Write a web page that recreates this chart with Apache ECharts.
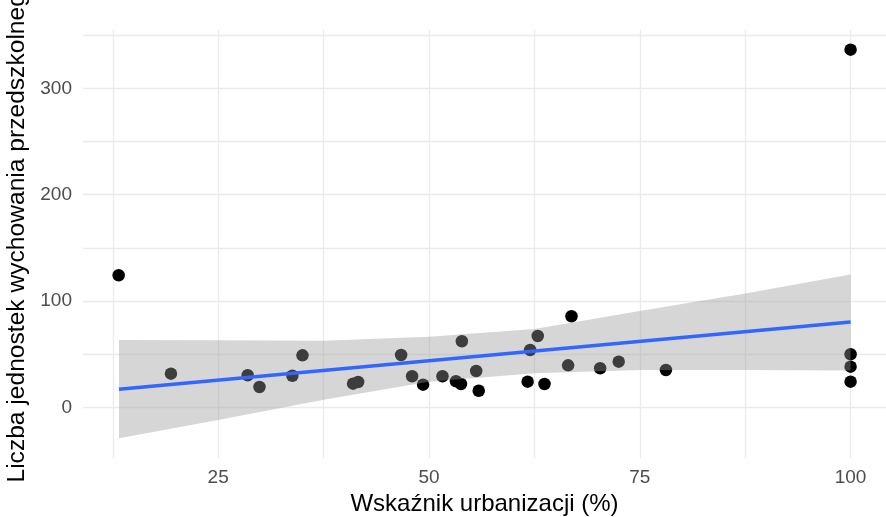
<!DOCTYPE html>
<html>
<head>
  <meta charset="utf-8">
  <script src="https://cdn.jsdelivr.net/npm/echarts@6.0.0/dist/echarts.min.js"></script>
  <style>
    body {
      margin: 0;
      padding: 0;
      background-color: white;
    }

    #main {
      width: 886px;
      height: 517px;
    }
  </style>
  <title>Urbanizacja a przedszkola</title>
</head>
<body>
<div id="main"></div>
<script>
  // punkty (wskaznik urbanizacji %, liczba jednostek)
  var urbanizacja = [13.2, 19.4, 28.5, 29.9, 33.8, 35.0, 41.0, 41.6, 46.7, 48.0,
    49.3, 51.6, 53.2, 53.8, 53.9, 55.6, 55.9, 61.7, 62.0, 62.9,
    63.7, 66.5, 66.9, 70.3, 72.5, 78.1, 100, 100, 100, 100];
  var jednostki = [124.2, 31.6, 30.1, 19.1, 29.7, 48.9, 22.2, 23.8, 49.2, 29.2,
    21.3, 29.2, 24.5, 21.9, 62.1, 34.1, 15.6, 24.1, 53.9, 67.1,
    21.9, 39.5, 85.6, 36.7, 42.9, 35.1, 336.4, 49.9, 38.2, 24.1];

  // linia trendu i przedzial ufnosci
  var fitX = [13.24, 100];
  var fitY = [16.9, 80.2];
  var ribbonX = [13.24, 25, 37.5, 50, 62.5, 75, 87.5, 100];
  var ribbonLower = [-29.2, -12, 7, 24, 32, 35, 35, 34.5];
  var ribbonUpper = [63.3, 63, 62.7, 66.4, 73.7, 90.5, 107, 125];

  var xGrid = [12.5, 25, 37.5, 50, 62.5, 75, 87.5, 100];
  var xLabels = [25, 50, 75, 100];
  var yGrid = [0, 50, 100, 150, 200, 250, 300, 350];
  var yLabels = [0, 100, 200, 300];

  var points = urbanizacja.map(function (x, i) { return [x, jednostki[i]]; });
  var fitLine = fitX.map(function (x, i) { return [x, fitY[i]]; });
  var ribbonData = ribbonX.map(function (x, i) { return [x, ribbonLower[i], ribbonUpper[i]]; });

  var font = '"Liberation Sans", Arial, sans-serif';

  var myChart = echarts.init(document.getElementById('main'));

  // pasmo ufnosci jako jeden wielokat (gora, potem dol od konca)
  function renderRibbon(params, api) {
    if (params.dataIndex !== 0) {
      return null;
    }
    var pts = [];
    for (var i = 0; i < ribbonX.length; i++) {
      pts.push(api.coord([ribbonX[i], ribbonUpper[i]]));
    }
    for (var j = ribbonX.length - 1; j >= 0; j--) {
      pts.push(api.coord([ribbonX[j], ribbonLower[j]]));
    }
    return {
      type: 'polygon',
      shape: { points: pts },
      style: { fill: 'rgba(153,153,153,0.4)' }
    };
  }

  myChart.setOption({
    animation: false,
    backgroundColor: '#ffffff',
    grid: {
      left: 83,
      right: 0,
      top: 30,
      bottom: 59,
      outerBoundsMode: 'none'
    },
    xAxis: {
      type: 'value',
      min: 8.97,
      max: 104.2,
      name: 'Wskaźnik urbanizacji (%)',
      nameLocation: 'middle',
      nameGap: 34,
      nameTextStyle: { color: '#000000', fontSize: 24, fontFamily: font },
      axisLine: { show: false },
      axisTick: { show: false, customValues: xGrid },
      axisLabel: {
        customValues: xLabels,
        color: '#4D4D4D',
        fontSize: 19,
        fontFamily: font,
        margin: 10
      },
      splitLine: { show: true, lineStyle: { color: '#EBEBEB', width: 1.3 } }
    },
    yAxis: {
      type: 'value',
      min: -47.7,
      max: 354.9,
      name: 'Liczba jednostek wychowania przedszkolnego',
      nameLocation: 'middle',
      nameGap: 42,
      nameRotate: 90,
      nameTextStyle: {
        color: '#000000',
        fontSize: 24.6,
        fontFamily: font,
        padding: [0, 0, 0, 26]
      },
      axisLine: { show: false },
      axisTick: { show: false, customValues: yGrid },
      axisLabel: {
        customValues: yLabels,
        color: '#4D4D4D',
        fontSize: 19,
        fontFamily: font,
        margin: 11
      },
      splitLine: { show: true, lineStyle: { color: '#EBEBEB', width: 1.3 } }
    },
    series: [
      {
        name: 'punkty',
        type: 'scatter',
        data: points,
        symbolSize: 12.5,
        itemStyle: { color: '#000000', opacity: 1 },
        z: 2
      },
      {
        name: 'przedzial',
        type: 'custom',
        data: ribbonData,
        renderItem: renderRibbon,
        silent: true,
        z: 3
      },
      {
        name: 'trend',
        type: 'line',
        data: fitLine,
        symbol: 'none',
        lineStyle: { color: '#3366FF', width: 3.5 },
        z: 4
      }
    ]
  });
</script>
</body>
</html>
